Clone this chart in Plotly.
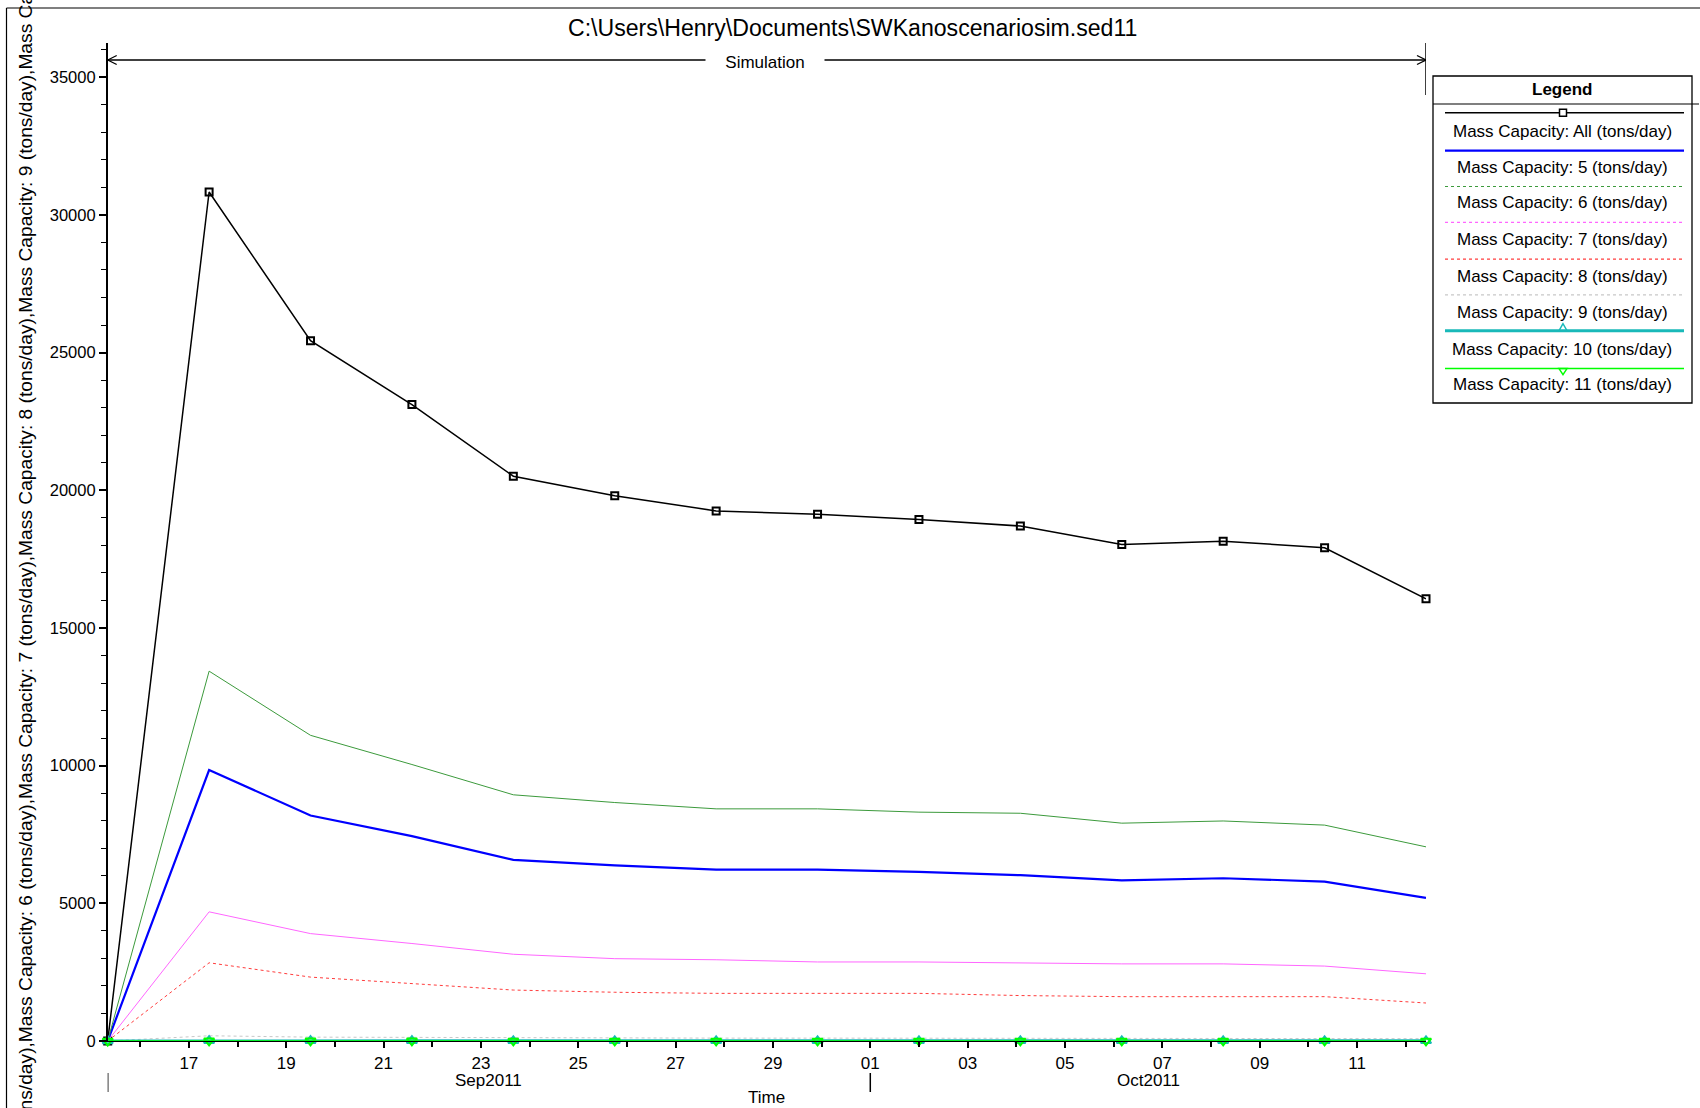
import pandas as pd
import plotly.graph_objects as go

W, H = 1700, 1108
FONT = "Liberation Sans, Arial, sans-serif"

# ---- data -------------------------------------------------------------
times = [
    "2011-09-15 08:00", "2011-09-17 10:00", "2011-09-19 12:00", "2011-09-21 14:00",
    "2011-09-23 16:00", "2011-09-25 18:00", "2011-09-27 20:00", "2011-09-29 22:00",
    "2011-10-02 00:00", "2011-10-04 02:00", "2011-10-06 04:00", "2011-10-08 06:00",
    "2011-10-10 08:00", "2011-10-12 10:00",
]
mc_all = [0, 30830, 25430, 23110, 20510, 19800, 19250, 19130, 18940, 18700, 18030, 18150, 17910, 16060]
mc_5 = [0, 9840, 8190, 7440, 6580, 6380, 6220, 6220, 6140, 6020, 5830, 5910, 5790, 5200]
mc_6 = [0, 13430, 11100, 10040, 8940, 8660, 8430, 8430, 8310, 8270, 7910, 7990, 7840, 7050]
mc_7 = [0, 4690, 3900, 3540, 3150, 2990, 2950, 2870, 2870, 2840, 2800, 2800, 2720, 2440]
mc_8 = [0, 2840, 2320, 2090, 1850, 1770, 1730, 1730, 1730, 1650, 1610, 1610, 1610, 1380]
mc_9 = [0, 190, 140, 125, 115, 110, 105, 105, 100, 100, 95, 95, 95, 85]
mc_10 = [0, 12, 10, 9, 8, 8, 8, 8, 7, 7, 7, 7, 7, 6]
mc_11 = [0, 6, 5, 5, 4, 4, 4, 4, 4, 4, 3, 3, 3, 3]

day_ticks = ["2011-09-17", "2011-09-19", "2011-09-21", "2011-09-23", "2011-09-25",
             "2011-09-27", "2011-09-29", "2011-10-01", "2011-10-03", "2011-10-05",
             "2011-10-07", "2011-10-09", "2011-10-11"]
day_labels = ["17", "19", "21", "23", "25", "27", "29", "01", "03", "05", "07", "09", "11"]
month_start = "2011-10-01"
month_labels = ["Sep2011", "Oct2011"]

series = [
    ("Mass Capacity: All (tons/day)", mc_all),
    ("Mass Capacity: 5 (tons/day)", mc_5),
    ("Mass Capacity: 6 (tons/day)", mc_6),
    ("Mass Capacity: 7 (tons/day)", mc_7),
    ("Mass Capacity: 8 (tons/day)", mc_8),
    ("Mass Capacity: 9 (tons/day)", mc_9),
    ("Mass Capacity: 10 (tons/day)", mc_10),
    ("Mass Capacity: 11 (tons/day)", mc_11),
]

# line / marker styles per series (plot dash, legend dash)
styles = [
    dict(color="#000000", width=1.5, dash="solid", marker="square-open", msize=7, ldash="solid"),
    dict(color="#0000ff", width=2.2, dash="solid", marker=None, msize=0, ldash="solid"),
    dict(color="#3c9a3c", width=1, dash="solid", marker=None, msize=0, ldash="dot"),
    dict(color="#ff66ff", width=1, dash="solid", marker=None, msize=0, ldash="dot"),
    dict(color="#ff3c3c", width=1, dash="dot", marker=None, msize=0, ldash="dot"),
    dict(color="#c8c8c8", width=1, dash="dot", marker=None, msize=0, ldash="dot"),
    dict(color="#19b9b9", width=3, dash="solid", marker="triangle-up-open", msize=9, ldash="solid"),
    dict(color="#00ff00", width=1.5, dash="solid", marker="triangle-down-open", msize=9, ldash="solid"),
]


# pixel -> paper helpers (margins are zero, so paper == page)
def px(x):
    return x / W


def py(y):
    return 1 - y / H


PLOT_L, PLOT_R, PLOT_T, PLOT_B = 107.7, 1426.0, 43.0, 1041.0

fig = go.Figure()
for (name, vals), st in zip(series, styles):
    mode = "lines+markers" if st["marker"] else "lines"
    kw = {}
    if st["marker"]:
        kw["marker"] = dict(symbol=st["marker"], size=st["msize"], color=st["color"],
                            line=dict(width=2, color=st["color"]))
    fig.add_trace(go.Scatter(
        x=times, y=vals, name=name, mode=mode, showlegend=False, cliponaxis=False,
        line=dict(color=st["color"], width=st["width"], dash=st["dash"]),
        **kw,
    ))

shapes = []
annotations = []

# outer frame (left and top edges)
shapes.append(dict(type="line", xref="paper", yref="paper", x0=px(6.5), x1=px(6.5),
                   y0=py(8), y1=py(H), line=dict(color="black", width=1.2)))
shapes.append(dict(type="line", xref="paper", yref="paper", x0=px(6.5), x1=px(W),
                   y0=py(8), y1=py(8), line=dict(color="black", width=1.2)))

# simulation span arrow
ya = py(60)
shapes.append(dict(type="line", xref="x", yref="paper", x0=times[0], x1=times[-1],
                   y0=ya, y1=ya, line=dict(color="black", width=1.3)))
for anchor, sgn in ((times[0], 1), (times[-1], -1)):
    for dy in (-4.5, 4.5):
        shapes.append(dict(type="line", xref="x", yref="paper", xsizemode="pixel",
                           xanchor=anchor, x0=0, x1=sgn * 9, y0=ya, y1=py(60 + dy),
                           line=dict(color="black", width=1.3)))
shapes.append(dict(type="line", xref="x", yref="paper", x0=times[-1], x1=times[-1],
                   y0=py(43), y1=py(95), line=dict(color="black", width=1.5)))
annotations.append(dict(text="Simulation", xref="paper", yref="paper", x=px(765), y=py(62),
                        xanchor="center", yanchor="middle", showarrow=False,
                        bgcolor="white", width=116, height=20, align="center",
                        font=dict(size=17, color="black", family=FONT)))

# month markers below the axis
for anchor in (times[0], month_start):
    shapes.append(dict(type="line", xref="x", yref="paper", x0=anchor, x1=anchor,
                       y0=py(1073), y1=py(1092), line=dict(color="black", width=1.5)))
t0, tm, t1 = pd.Timestamp(times[0]), pd.Timestamp(month_start), pd.Timestamp(times[-1])
for label, a, b in ((month_labels[0], t0, tm), (month_labels[1], tm, t1)):
    annotations.append(dict(text=label, xref="x", yref="paper", x=a + (b - a) / 2, y=py(1080),
                            xanchor="center", yanchor="middle", showarrow=False,
                            font=dict(size=17, color="black", family=FONT)))
annotations.append(dict(text="Time", xref="paper", yref="paper", x=px(766), y=py(1097),
                        xanchor="center", yanchor="middle", showarrow=False,
                        font=dict(size=17, color="black", family=FONT)))

# title
annotations.append(dict(text="C:\\Users\\Henry\\Documents\\SWKanoscenariosim.sed11",
                        xref="paper", yref="paper", x=px(852), y=py(28),
                        xanchor="center", yanchor="middle", showarrow=False,
                        font=dict(size=23.1, color="black", family=FONT)))

# y title: all series names joined (overflows the page top and bottom)
annotations.append(dict(text=",".join(n for n, _ in series), xref="paper", yref="paper",
                        x=px(25), y=py(H / 2), xanchor="center", yanchor="middle",
                        textangle=-90, showarrow=False,
                        font=dict(size=19.2, color="black", family=FONT)))

# legend box
LX0, LX1, LY0, LY1 = 1433, 1692, 76, 403
shapes.append(dict(type="rect", xref="paper", yref="paper", x0=px(LX0), x1=px(LX1),
                   y0=py(LY0), y1=py(LY1), line=dict(color="black", width=1.3),
                   fillcolor="white", layer="above"))
shapes.append(dict(type="line", xref="paper", yref="paper", x0=px(LX0), x1=px(1699),
                   y0=py(104), y1=py(104), line=dict(color="black", width=1.2)))
annotations.append(dict(text="<b>Legend</b>", xref="paper", yref="paper", x=px(1562), y=py(89),
                        xanchor="center", yanchor="middle", showarrow=False,
                        font=dict(size=17, color="black", family=FONT)))
line_y = [112.8, 150.7, 186.5, 222.3, 259.1, 294.9, 330.7, 368.6]
text_y = [131.2, 167.0, 202.7, 239.6, 276.5, 312.2, 349.1, 384.9]
MX = 1563
for (name, _), st, ly, ty in zip(series, styles, line_y, text_y):
    shapes.append(dict(type="line", xref="paper", yref="paper", x0=px(1445), x1=px(1684),
                       y0=py(ly), y1=py(ly), layer="above",
                       line=dict(color=st["color"], width=max(st["width"], 1.2), dash=st["ldash"])))
    if st["marker"] == "square-open":
        shapes.append(dict(type="rect", xref="paper", yref="paper", x0=px(MX - 3.5), x1=px(MX + 3.5),
                           y0=py(ly - 3.5), y1=py(ly + 3.5), fillcolor="white", layer="above",
                           line=dict(color=st["color"], width=1.5)))
    elif st["marker"] == "triangle-up-open":
        path = "M {} {} L {} {} L {} {} Z".format(px(MX), py(ly - 7), px(MX - 4), py(ly), px(MX + 4), py(ly))
        shapes.append(dict(type="path", xref="paper", yref="paper", path=path, layer="above",
                           line=dict(color=st["color"], width=1.5)))
    elif st["marker"] == "triangle-down-open":
        path = "M {} {} L {} {} L {} {} Z".format(px(MX - 4), py(ly), px(MX + 4), py(ly), px(MX), py(ly + 6))
        shapes.append(dict(type="path", xref="paper", yref="paper", path=path, layer="above",
                           line=dict(color=st["color"], width=1.5)))
    annotations.append(dict(text=name, xref="paper", yref="paper", x=px(1562), y=py(ty),
                            xanchor="center", yanchor="middle", showarrow=False,
                            font=dict(size=17, color="black", family=FONT)))

fig.update_layout(
    width=W, height=H,
    margin=dict(l=0, r=0, t=0, b=0, autoexpand=False),
    paper_bgcolor="white", plot_bgcolor="white",
    font=dict(family=FONT, size=16, color="black"),
    xaxis=dict(
        domain=[px(PLOT_L), px(PLOT_R)], automargin=False,
        type="date", range=[times[0], times[-1]],
        tickmode="array", tickvals=day_ticks, ticktext=day_labels,
        ticks="outside", ticklen=6, tickwidth=1.5, tickcolor="black",
        showline=True, linecolor="black", linewidth=1.2,
        showgrid=False, zeroline=False,
        tickfont=dict(size=17, family=FONT, color="black"),
        minor=dict(ticks="outside", ticklen=5, tickwidth=1.5, tickcolor="black",
                   dtick=86400000, tick0="2011-09-15", showgrid=False),
    ),
    yaxis=dict(
        domain=[py(PLOT_B), py(PLOT_T)], automargin=False,
        range=[0, 36240],
        tickmode="linear", tick0=0, dtick=5000, tickformat="d",
        ticks="outside", ticklen=7, tickwidth=1.5, tickcolor="black",
        showline=True, linecolor="black", linewidth=1.5,
        showgrid=False, zeroline=False,
        tickfont=dict(size=16.5, family=FONT, color="black"),
        minor=dict(ticks="outside", ticklen=5, tickwidth=1.2, tickcolor="black",
                   dtick=1000, showgrid=False),
    ),
    shapes=shapes,
    annotations=annotations,
)

fig.write_html("out.html")
